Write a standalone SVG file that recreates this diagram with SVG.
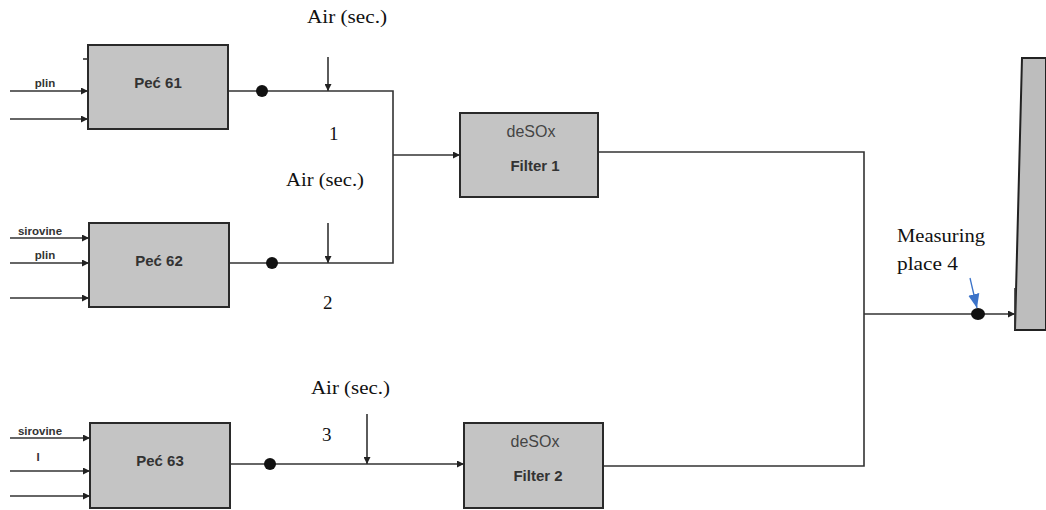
<svg xmlns="http://www.w3.org/2000/svg" width="1046" height="510" viewBox="0 0 1046 510">
<style>
.box{fill:#c4c4c4;stroke:#2a2a2a;stroke-width:2}
.ln{fill:none;stroke:#333;stroke-width:1.6}
.pec{font-family:"Liberation Sans",Arial,sans-serif;font-size:15px;font-weight:bold;fill:#333;text-anchor:middle}
.lbl{font-family:"Liberation Sans",Arial,sans-serif;font-size:15px;font-weight:bold;fill:#333;text-anchor:middle}
.lbn{font-family:"Liberation Sans",Arial,sans-serif;font-size:16px;fill:#444;text-anchor:middle}
.in{font-family:"Liberation Sans",Arial,sans-serif;font-size:11.5px;font-weight:bold;fill:#333;text-anchor:middle}
.tm{font-family:"Liberation Serif","Times New Roman",serif;font-size:19px;fill:#111}
.dot{fill:#111}
</style>
<defs>
<marker id="ah" viewBox="0 0 10 10" refX="10" refY="5" markerWidth="7" markerHeight="7" orient="auto" markerUnits="userSpaceOnUse"><path d="M0,0 L10,5 L0,10 z" fill="#222"/></marker>
<marker id="ab" viewBox="0 0 10 10" refX="10" refY="5" markerWidth="14" markerHeight="14" orient="auto" markerUnits="userSpaceOnUse"><path d="M0,1 L10,5 L0,9 z" fill="#3b73c9"/></marker>
</defs>
<g id="connectors">
<path class="ln" marker-end="url(#ah)" d="M10,91 H88"/>
<path class="ln" marker-end="url(#ah)" d="M10,119 H88"/>
<path class="ln" marker-end="url(#ah)" d="M10,238 H89"/>
<path class="ln" marker-end="url(#ah)" d="M10,263 H89"/>
<path class="ln" marker-end="url(#ah)" d="M10,298 H89"/>
<path class="ln" marker-end="url(#ah)" d="M10,438 H90"/>
<path class="ln" marker-end="url(#ah)" d="M10,471 H90"/>
<path class="ln" marker-end="url(#ah)" d="M10,496 H90"/>
<path class="ln" d="M228,91 H393 V263 H229"/>
<path class="ln" marker-end="url(#ah)" d="M393,155 H460"/>
<path class="ln" marker-end="url(#ah)" d="M230,464 H464"/>
<path class="ln" d="M598,152 H864 V466 H603"/>
<path class="ln" marker-end="url(#ah)" d="M864,314 H1015"/>
<path class="ln" marker-end="url(#ah)" d="M328,57 V91"/>
<path class="ln" marker-end="url(#ah)" d="M328,223 V263"/>
<path class="ln" marker-end="url(#ah)" d="M367,414 V464"/>
<path fill="none" stroke="#3b73c9" stroke-width="1.3" marker-end="url(#ab)" d="M970,278 L977,308"/>
<circle class="dot" cx="262" cy="91" r="6"/>
<circle class="dot" cx="272" cy="263" r="6"/>
<circle class="dot" cx="270" cy="464" r="6"/>
<ellipse class="dot" cx="978" cy="314" rx="7" ry="6"/>
</g>
<g id="pec61">
<rect class="box" x="88" y="45" width="140" height="84"/>
<path class="ln" d="M83,59 H88"/>
<text class="pec" x="158" y="88">Peć 61</text>
<text class="in" x="45" y="87">plin</text>
</g>
<g id="pec62">
<rect class="box" x="89" y="223" width="140" height="84"/>
<text class="pec" x="159" y="266">Peć 62</text>
<text class="in" x="40" y="235">sirovine</text>
<text class="in" x="45" y="259">plin</text>
</g>
<g id="pec63">
<rect class="box" x="90" y="423" width="140" height="85"/>
<text class="pec" x="160" y="466">Peć 63</text>
<text class="in" x="40" y="435">sirovine</text>
<text class="in" x="38" y="461">I</text>
</g>
<g id="filter1">
<rect class="box" x="460" y="113" width="138" height="84"/>
<text class="lbn" x="531" y="137">deSOx</text>
<text class="lbl" x="535" y="171">Filter 1</text>
</g>
<g id="filter2">
<rect class="box" x="464" y="423" width="139" height="85"/>
<text class="lbn" x="535" y="447">deSOx</text>
<text class="lbl" x="538" y="481">Filter 2</text>
</g>
<g id="stack">
<path d="M1022,58 H1046 V330 H1015 Z" fill="#bdbdbd" stroke="#222" stroke-width="2"/>
<path class="ln" d="M1015,288 V330"/>
</g>
<g id="labels">
<text class="tm" x="307" y="23" textLength="80" lengthAdjust="spacingAndGlyphs">Air (sec.)</text>
<text class="tm" x="329" y="140">1</text>
<text class="tm" x="286" y="186" textLength="78" lengthAdjust="spacingAndGlyphs">Air (sec.)</text>
<text class="tm" x="323" y="309">2</text>
<text class="tm" x="311" y="394" textLength="79" lengthAdjust="spacingAndGlyphs">Air (sec.)</text>
<text class="tm" x="322" y="441">3</text>
<text class="tm" x="897" y="242" textLength="88" lengthAdjust="spacingAndGlyphs">Measuring</text>
<text class="tm" x="897" y="270" textLength="61" lengthAdjust="spacingAndGlyphs">place 4</text>
</g>
</svg>
